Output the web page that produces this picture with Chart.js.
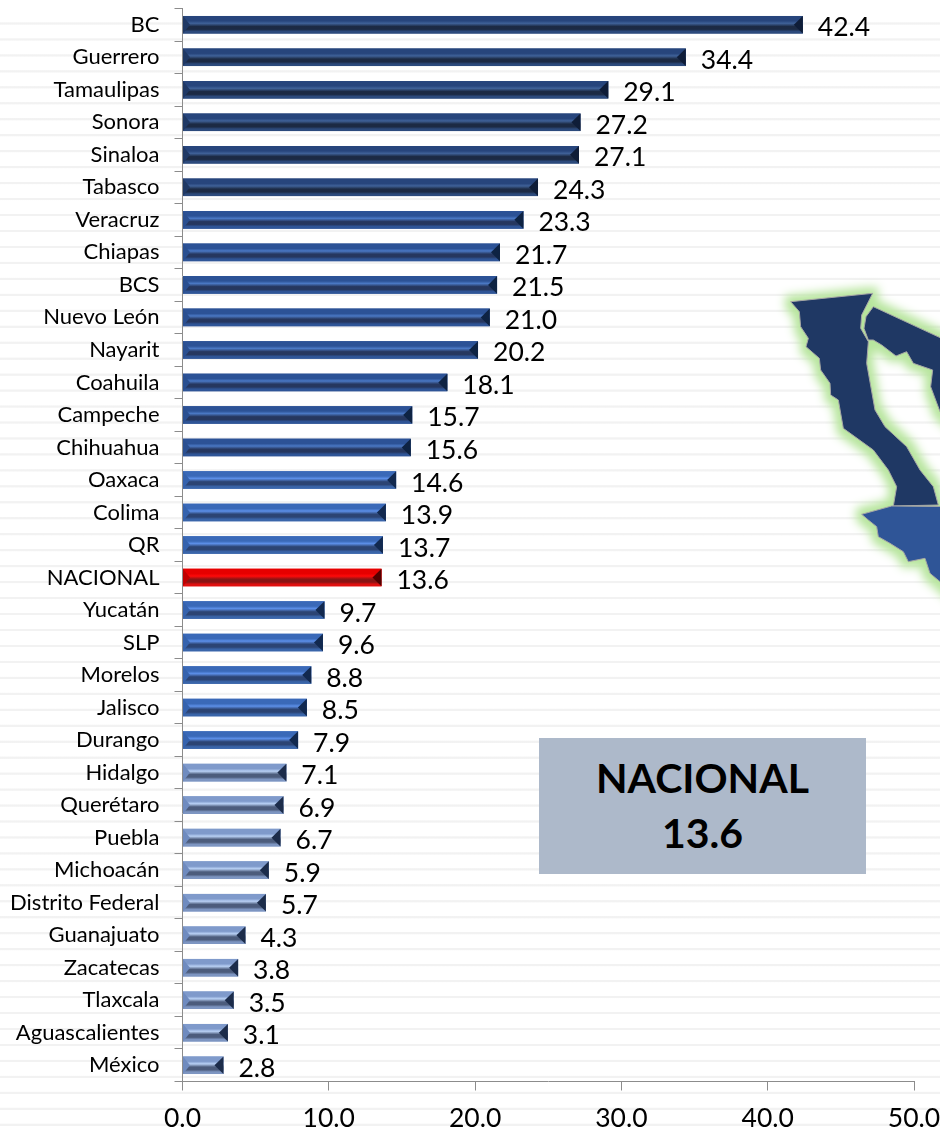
<!DOCTYPE html>
<html lang="es">
<head>
    <meta charset="UTF-8">
    <title>Estados - NACIONAL 13.6</title>
    <style>
        html, body { margin: 0; padding: 0; }
        body {
            width: 940px;
            height: 1129px;
            overflow: hidden;
            position: relative;
            background-color: #fff;
            background-image:
                linear-gradient(#fff, #fff),
                repeating-linear-gradient(to bottom, #fff 0, #fff 6.1px, #f2f2f2 6.8px, #f2f2f2 8.3px, #fff 9px, #fff 15.96px);
            background-size: 100% 16px, 100% 100%;
            background-repeat: no-repeat;
            font-family: Lato, sans-serif;
        }
        #chart { position: absolute; left: 0; top: 0; }
        #map { position: absolute; left: 760px; top: 270px; }
        #box {
            position: absolute;
            left: 539px;
            top: 738px;
            width: 327px;
            height: 136px;
            background: #adb9ca;
            color: #000;
            font-weight: bold;
            font-size: 41px;
            line-height: 55px;
            text-align: center;
            padding-top: 12px;
            box-sizing: border-box;
        }
    </style>
</head>
<body>
    <svg id="map" width="180" height="350" viewBox="0 0 540 1050">
        <defs>
            <filter id="glow" x="-30%" y="-30%" width="160%" height="160%" color-interpolation-filters="sRGB">
                <feMorphology in="SourceAlpha" operator="dilate" radius="18" result="fat"/>
                <feGaussianBlur in="fat" stdDeviation="14" result="soft"/>
                <feFlood flood-color="#b7e59d"/>
                <feComposite in2="soft" operator="in"/>
            </filter>
        </defs>
        <g id="shapes" stroke="#a6a6a6" stroke-width="3">
            <g filter="url(#glow)" stroke="none">
                <polygon points="92,95 338,70 305,135 302,175 325,215 320,280 345,420 375,470 440,530 480,600 520,650 535,705 400,708 410,650 385,600 340,540 250,475 235,390 212,375 210,340 182,300 178,265 138,230 145,205 122,170 118,125"/>
                <polygon points="340,110 620,240 620,500 540,425 512,350 518,300 460,280 440,245 408,258 365,225 340,210 325,210 312,175 318,140"/>
                <polygon points="305,733 395,708 620,710 620,1010 540,935 510,910 495,865 445,875 430,845 390,820 355,800 350,770 325,750"/>
            </g>
            <polygon fill="#1f3864" points="92,95 338,70 305,135 302,175 325,215 320,280 345,420 375,470 440,530 480,600 520,650 535,705 400,708 410,650 385,600 340,540 250,475 235,390 212,375 210,340 182,300 178,265 138,230 145,205 122,170 118,125"/>
            <polygon fill="#1f3864" points="340,110 620,240 620,500 540,425 512,350 518,300 460,280 440,245 408,258 365,225 340,210 325,210 312,175 318,140"/>
            <polygon fill="#2f5597" points="305,733 395,708 620,710 620,1010 540,935 510,910 495,865 445,875 430,845 390,820 355,800 350,770 325,750"/>
        </g>
    </svg>
    <canvas id="chart" width="940" height="1129"></canvas>
    <div id="box">NACIONAL<br>13.6</div>

    <script src="https://cdn.jsdelivr.net/npm/chart.js"></script>
    <script>
        const categories = ['BC', 'Guerrero', 'Tamaulipas', 'Sonora', 'Sinaloa', 'Tabasco', 'Veracruz', 'Chiapas', 'BCS',
            'Nuevo León', 'Nayarit', 'Coahuila', 'Campeche', 'Chihuahua', 'Oaxaca', 'Colima', 'QR', 'NACIONAL',
            'Yucatán', 'SLP', 'Morelos', 'Jalisco', 'Durango', 'Hidalgo', 'Querétaro', 'Puebla', 'Michoacán',
            'Distrito Federal', 'Guanajuato', 'Zacatecas', 'Tlaxcala', 'Aguascalientes', 'México'];
        const values = [42.4, 34.4, 29.1, 27.2, 27.1, 24.3, 23.3, 21.7, 21.5, 21.0, 20.2, 18.1, 15.7, 15.6, 14.6, 13.9,
            13.7, 13.6, 9.7, 9.6, 8.8, 8.5, 7.9, 7.1, 6.9, 6.7, 5.9, 5.7, 4.3, 3.8, 3.5, 3.1, 2.8];
        const xTicks = [0, 10, 20, 30, 40, 50];

        // top edge, light stripe, dark stripe, bottom edge, right end, left end
        const shades = {
            navy: ['#27457c', '#3f6198', '#1c2a44', '#2c4a7c', '#0f1d38', '#1f3864'],
            mid: ['#2c5296', '#4a78c4', '#26375f', '#2f5597', '#0e2343', '#2a4f90'],
            blue: ['#3a69b8', '#5c8fe8', '#2c4473', '#3a65a9', '#12294f', '#3562ad'],
            light: ['#7f9acb', '#b8d0f4', '#4c5c7c', '#7d95c1', '#1c2c4a', '#6f8bbf'],
            red: ['#e60000', '#ff0a0a', '#8a1515', '#e01010', '#520000', '#c00000']
        };

        function shadeFor(i) {
            if (categories[i] === 'NACIONAL') return shades.red;
            if (i < 6) return shades.navy;
            if (i < 14) return shades.mid;
            if (i < 23) return shades.blue;
            return shades.light;
        }

        // drop the extra room chart.js keeps for overhanging tick labels
        function noOverhang(scale) {
            scale.paddingLeft = scale.paddingRight = scale.paddingTop = scale.paddingBottom = 0;
        }

        // bevel look + value labels on top of the real bars
        const bevelBars = {
            id: 'bevelBars',
            afterDatasetsDraw(chart) {
                const ctx = chart.ctx;
                chart.getDatasetMeta(0).data.forEach((bar, i) => {
                    const s = shadeFor(i);
                    const left = bar.base, right = bar.x;
                    const top = bar.y - bar.height / 2, bottom = bar.y + bar.height / 2;
                    const mid = bar.y;

                    const grad = ctx.createLinearGradient(0, top, 0, bottom);
                    grad.addColorStop(0, s[0]);
                    grad.addColorStop(0.28, s[0]);
                    grad.addColorStop(0.42, s[1]);
                    grad.addColorStop(0.6, s[2]);
                    grad.addColorStop(0.76, s[2]);
                    grad.addColorStop(0.88, s[3]);
                    grad.addColorStop(1, s[3]);
                    ctx.fillStyle = grad;
                    ctx.fillRect(left, top, right - left, bottom - top);

                    ctx.fillStyle = s[4];
                    ctx.beginPath();
                    ctx.moveTo(right, top);
                    ctx.lineTo(right, bottom);
                    ctx.lineTo(right - 9, mid);
                    ctx.fill();

                    ctx.fillStyle = s[5];
                    ctx.beginPath();
                    ctx.moveTo(left, top);
                    ctx.lineTo(left, bottom);
                    ctx.lineTo(left + 7, mid);
                    ctx.fill();

                    ctx.fillStyle = '#000';
                    ctx.font = '26.5px Lato, sans-serif';
                    ctx.textAlign = 'left';
                    ctx.textBaseline = 'middle';
                    ctx.fillText(values[i].toFixed(1), right + 15, mid + 3);
                });
            }
        };

        new Chart(document.getElementById('chart'), {
            type: 'bar',
            data: {
                labels: categories,
                datasets: [{
                    data: values,
                    backgroundColor: categories.map((c, i) => shadeFor(i)[0]),
                    barPercentage: 0.54,
                    categoryPercentage: 1
                }]
            },
            options: {
                indexAxis: 'y',
                responsive: false,
                animation: false,
                layout: { padding: { top: 8.5, right: 26, left: 0, bottom: 0 } },
                plugins: { legend: { display: false }, tooltip: { enabled: false } },
                scales: {
                    x: {
                        min: xTicks[0],
                        max: xTicks[xTicks.length - 1],
                        afterFit(scale) { scale.height = 47.5; noOverhang(scale); },
                        afterBuildTicks(scale) { scale.ticks = xTicks.map(v => ({ value: v })); },
                        border: { color: '#8c8c8c' },
                        grid: { drawOnChartArea: false, drawTicks: true, tickLength: 9, color: '#8c8c8c' },
                        ticks: {
                            color: '#000',
                            padding: 12,
                            maxRotation: 0,
                            font: { family: 'Lato, sans-serif', size: 26.5 },
                            callback: v => v.toFixed(1)
                        }
                    },
                    y: {
                        afterFit(scale) { scale.width = 182.5; noOverhang(scale); },
                        border: { color: '#8c8c8c' },
                        grid: { drawOnChartArea: false, drawTicks: true, tickLength: 8, color: '#8c8c8c' },
                        ticks: {
                            color: '#000',
                            padding: 15,
                            autoSkip: false,
                            font: { family: 'Lato, sans-serif', size: 22 }
                        }
                    }
                }
            },
            plugins: [bevelBars]
        });
    </script>
</body>
</html>
